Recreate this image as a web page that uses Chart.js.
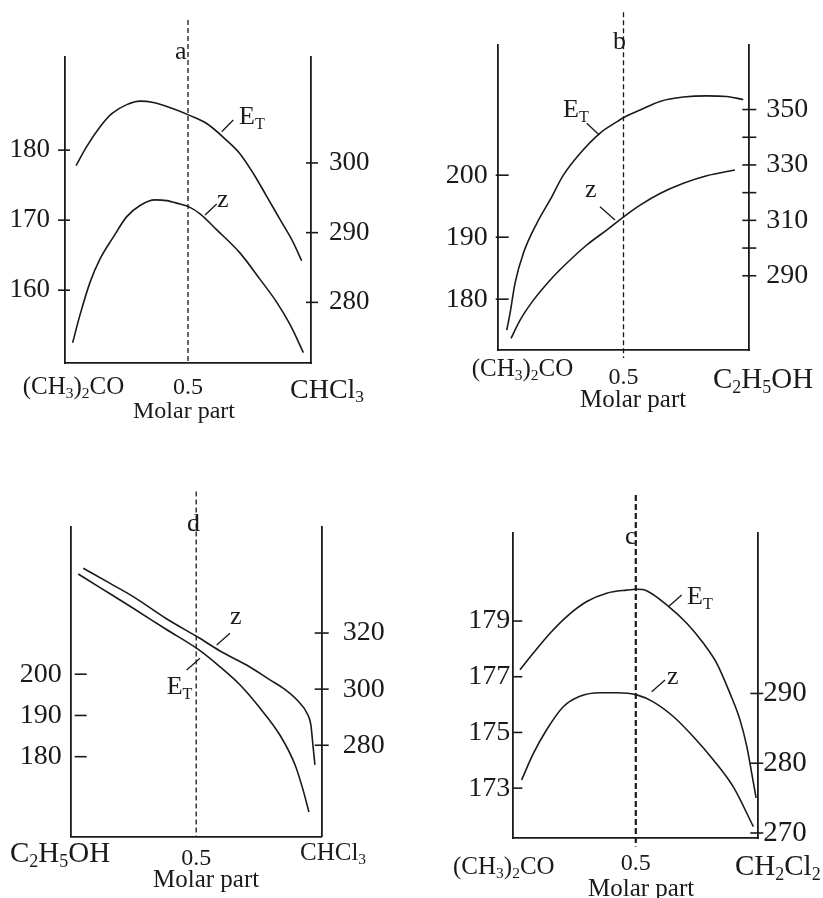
<!DOCTYPE html>
<html lang="en">
<head>
<meta charset="UTF-8">
<title>E_T and z against molar part</title>
<script src="https://cdn.jsdelivr.net/npm/chart.js@4.4.1/dist/chart.umd.min.js"></script>
<style>
  body { margin: 0; background: #fff; }
  #wrap { position: relative; width: 823px; height: 898px; overflow: hidden;
          font-family: "Liberation Serif", "Times New Roman", serif; color: #1a1a1a; }
  #wrap canvas { position: absolute; }
  .lbl { position: absolute; line-height: 1; white-space: nowrap; }
  .lbl sub { font-size: .62em; vertical-align: baseline; position: relative; top: .28em; }
  #leaders { position: absolute; left: 0; top: 0; }
</style>
</head>
<body>
<div id="wrap">
  <canvas id="pa" width="411" height="440"></canvas>
  <canvas id="pb" width="411" height="440"></canvas>
  <canvas id="pd" width="411" height="448"></canvas>
  <canvas id="pc" width="411" height="448"></canvas>
  <svg id="leaders" width="823" height="898"></svg>
</div>
<script>
// a: (CH3)2CO - CHCl3
const aEtX = [0.045, 0.088, 0.142, 0.190, 0.251, 0.305, 0.359, 0.440, 0.504, 0.576, 0.657, 0.711, 0.765, 0.820, 0.874, 0.928, 0.962];
const aEtY = [177.8, 180.5, 183.3, 185.2, 186.5, 187.0, 186.8, 185.9, 185.0, 183.8, 181.4, 179.5, 176.7, 173.4, 170.1, 166.8, 164.2];
const aZX = [0.031, 0.061, 0.102, 0.142, 0.197, 0.251, 0.305, 0.366, 0.413, 0.467, 0.504, 0.549, 0.617, 0.711, 0.793, 0.861, 0.915, 0.969];
const aZY = [274.2, 278.2, 282.9, 286.2, 289.4, 292.3, 293.9, 294.7, 294.6, 294.1, 293.7, 292.7, 290.4, 287.1, 283.3, 280.0, 276.8, 272.8];
const aLeftTicks = [160, 170, 180];
const aRightTicks = [280, 290, 300];

// b: (CH3)2CO - C2H5OH
const bEtX = [0.036, 0.049, 0.069, 0.102, 0.155, 0.208, 0.261, 0.327, 0.407, 0.473, 0.510, 0.566, 0.645, 0.738, 0.831, 0.910, 0.976];
const bEtY = [175.0, 177.7, 182.6, 187.4, 192.2, 196.0, 200.0, 203.5, 206.8, 208.6, 209.5, 210.5, 211.9, 212.6, 212.8, 212.7, 212.2];
const bZX = [0.053, 0.089, 0.142, 0.208, 0.274, 0.354, 0.433, 0.510, 0.566, 0.645, 0.738, 0.831, 0.943];
const bZY = [267.4, 274.0, 281.2, 288.4, 294.5, 301.1, 306.5, 311.9, 315.5, 319.7, 323.4, 326.1, 328.2];
const bLeftTicks = [180, 190, 200];
const bRightTicks = [290, 300, 310, 320, 330, 340, 350];
const bRightLabels = [290, 310, 330, 350];

// d: C2H5OH - CHCl3
const dEtX = [0.030, 0.117, 0.249, 0.380, 0.511, 0.595, 0.675, 0.754, 0.834, 0.894, 0.926, 0.949];
const dEtY = [224.3, 221.0, 216.0, 210.9, 205.9, 201.8, 197.4, 191.8, 185.2, 178.0, 171.9, 166.6];
const dZX = [0.050, 0.157, 0.249, 0.380, 0.511, 0.595, 0.714, 0.794, 0.846, 0.902, 0.945, 0.957, 0.965, 0.973];
const dZY = [343.1, 337.7, 333.0, 325.2, 318.3, 313.6, 307.9, 303.3, 300.4, 296.1, 290.8, 287.2, 280.1, 273.0];
const dLeftTicks = [180, 190, 200];
const dRightTicks = [280, 300, 320];

// c: (CH3)2CO - CH2Cl2
const cEtX = [0.027, 0.082, 0.150, 0.218, 0.300, 0.381, 0.463, 0.504, 0.544, 0.626, 0.708, 0.776, 0.830, 0.884, 0.925, 0.953, 0.973, 0.991];
const cEtY = [177.25, 177.85, 178.56, 179.16, 179.70, 180.00, 180.11, 180.14, 180.09, 179.58, 178.92, 178.20, 177.49, 176.41, 175.46, 174.50, 173.54, 172.65];
const cZX = [0.034, 0.082, 0.136, 0.204, 0.272, 0.354, 0.422, 0.504, 0.571, 0.653, 0.735, 0.816, 0.898, 0.980];
const cZY = [277.6, 281.4, 284.8, 288.1, 289.6, 290.1, 290.1, 289.8, 288.8, 286.7, 283.8, 280.5, 276.6, 270.9];
const cLeftTicks = [173, 175, 177, 179];
const cRightTicks = [270, 280, 290];

const guideX = 0.5;
const ink = '#1a1a1a';
const serif = '"Liberation Serif", "Times New Roman", serif';

// box: canvas left/top/w/h, area: left/top/right/bottom of the axes frame
const panels = [
  { id: 'pa', box: [0, 0, 411, 440], area: [65, 57, 311, 363],
    et: [aEtX, aEtY], z: [aZX, aZY],
    left: { min: 149.6, max: 193.3, ticks: aLeftTicks, size: 27, pad: 15, span: [-7, 5] },
    right: { min: 271.3, max: 315.2, ticks: aRightTicks, size: 27, pad: 18, span: [-5, 7] },
    guide: [198.6, 149.6], dash: [5, 3], dashW: 1.3, xPad: 10 },
  { id: 'pb', box: [412, 0, 411, 440], area: [497.7, 45, 749.3, 350],
    et: [bEtX, bEtY], z: [bZX, bZY],
    left: { min: 171.8, max: 221.0, ticks: bLeftTicks, size: 28, pad: 10, span: [-2, 11] },
    right: { min: 263.2, max: 373.3, ticks: bRightTicks, labels: bRightLabels, size: 28, pad: 17, span: [-7, 7] },
    guide: [226.3, 170.5], dash: [5, 3], dashW: 1.3, xPad: 13 },
  { id: 'pd', box: [0, 450, 411, 448], area: [70.7, 527, 321.7, 836.7],
    et: [dEtX, dEtY], z: [dZX, dZY],
    left: { min: 160.6, max: 235.7, ticks: dLeftTicks, size: 28, pad: 9, span: [4, 16] },
    right: { min: 247.4, max: 357.8, ticks: dRightTicks, size: 28, pad: 21, span: [-7, 7] },
    guide: [244.3, 160.6], dash: [5, 3], dashW: 1.3, xPad: 8 },
  { id: 'pc', box: [412, 450, 411, 448], area: [513.3, 533, 758.3, 838.3],
    et: [cEtX, cEtY], z: [cZX, cZY],
    left: { min: 171.2, max: 182.16, ticks: cLeftTicks, size: 28, pad: 3, span: [0, 9] },
    right: { min: 269.24, max: 313.0, ticks: cRightTicks, size: 29, pad: 5, span: [-8, 5] },
    guide: [183.52, 170.91], dash: [6, 3], dashW: 2.2, xPad: 11 }
];

function pts(xs, ys) {
  return xs.map((x, i) => ({ x: x, y: ys[i] }));
}

function curve(data, axis) {
  return { data: data, yAxisID: axis, borderColor: ink, borderWidth: 1.6,
           pointRadius: 0, fill: false, cubicInterpolationMode: 'monotone' };
}

function yScale(p, side, ax) {
  return {
    type: 'linear', position: side, min: ax.min, max: ax.max,
    afterBuildTicks: s => { s.ticks = ax.ticks.map(v => ({ value: v })); },
    afterFit: s => { s.width = side === 'left' ? p.area[0] - p.box[0] : p.box[0] + p.box[2] - p.area[2]; },
    grid: { display: false, drawTicks: false },
    border: { display: true, color: ink, width: 1.8 },
    ticks: { color: ink, padding: ax.pad, font: { family: serif, size: ax.size },
             callback: v => (!ax.labels || ax.labels.includes(v)) ? String(v) : '' }
  };
}

function tickPlugin(p) {
  return {
    id: 'tickMarks',
    afterDraw(chart) {
      const ctx = chart.ctx;
      ctx.save();
      ctx.strokeStyle = ink;
      ctx.lineWidth = 1.6;
      [['y', p.left.span], ['y2', p.right.span]].forEach(([id, span]) => {
        const s = chart.scales[id];
        const ax = id === 'y' ? s.right : s.left;
        s.ticks.forEach(t => {
          const py = s.getPixelForValue(t.value);
          ctx.beginPath();
          ctx.moveTo(ax + span[0], py);
          ctx.lineTo(ax + span[1], py);
          ctx.stroke();
        });
      });
      ctx.restore();
    }
  };
}

panels.forEach(p => {
  const cv = document.getElementById(p.id);
  cv.style.left = p.box[0] + 'px';
  cv.style.top = p.box[1] + 'px';
  new Chart(cv, {
    type: 'line',
    data: {
      datasets: [
        curve(pts(p.et[0], p.et[1]), 'y'),
        curve(pts(p.z[0], p.z[1]), 'y2'),
        { data: [{ x: guideX, y: p.guide[0] }, { x: guideX, y: p.guide[1] }], yAxisID: 'y',
          borderColor: ink, borderWidth: p.dashW, borderDash: p.dash, pointRadius: 0, clip: false }
      ]
    },
    options: {
      responsive: false, animation: false, events: [],
      layout: { padding: { top: p.area[1] - p.box[1], left: 0, right: 0, bottom: 0 } },
      plugins: { legend: { display: false }, tooltip: { enabled: false } },
      scales: {
        x: {
          type: 'linear', min: 0, max: 1,
          afterBuildTicks: s => { s.ticks = [{ value: guideX }]; },
          afterFit: s => { s.height = p.box[1] + p.box[3] - p.area[3]; },
          grid: { display: false, drawTicks: false },
          border: { display: true, color: ink, width: 1.8 },
          ticks: { color: ink, padding: p.xPad, maxRotation: 0, autoSkip: false,
                   font: { family: serif, size: 24 }, callback: v => String(v) }
        },
        y: yScale(p, 'left', p.left),
        y2: yScale(p, 'right', p.right)
      }
    },
    plugins: [tickPlugin(p)]
  });
});

// text: html, left, baseline, font size
const notes = [
  ['a', 175, 60, 26],
  ['E<sub>T</sub>', 239, 125, 26],
  ['z', 217, 208, 26],
  ['(CH<sub>3</sub>)<sub>2</sub>CO', 22.7, 394, 25],
  ['CHCl<sub>3</sub>', 290, 398, 28],
  ['Molar part', 133, 418, 24],
  ['b', 613, 50, 26],
  ['E<sub>T</sub>', 563, 118, 26],
  ['z', 585, 198, 26],
  ['(CH<sub>3</sub>)<sub>2</sub>CO', 471.7, 376, 25],
  ['C<sub>2</sub>H<sub>5</sub>OH', 713, 388, 29],
  ['Molar part', 580, 407, 25],
  ['d', 187, 532, 26],
  ['z', 230, 625, 26],
  ['E<sub>T</sub>', 166.7, 695, 26],
  ['C<sub>2</sub>H<sub>5</sub>OH', 10, 862, 29],
  ['CHCl<sub>3</sub>', 300, 860, 25],
  ['Molar part', 153, 887, 25],
  ['c', 625, 545, 26],
  ['E<sub>T</sub>', 687, 605, 26],
  ['z', 667, 685, 26],
  ['(CH<sub>3</sub>)<sub>2</sub>CO', 453, 874, 25],
  ['CH<sub>2</sub>Cl<sub>2</sub>', 735, 875, 29],
  ['Molar part', 588, 896, 25]
];
const wrap = document.getElementById('wrap');
notes.forEach(([html, left, base, size]) => {
  const d = document.createElement('div');
  d.className = 'lbl';
  d.innerHTML = html;
  d.style.fontSize = size + 'px';
  d.style.left = left + 'px';
  d.style.top = (base - 0.8375 * size) + 'px';
  wrap.appendChild(d);
});

// leader lines from labels to curves
const leaders = [
  [221.7, 131.7, 233.3, 120], [205, 215, 216.7, 204],
  [586.7, 123.3, 599.3, 135], [600, 206.7, 615, 220],
  [216.7, 645, 230, 633.3], [186.7, 670, 200, 658.3],
  [668.3, 606.7, 681.7, 595], [651.7, 691.7, 665, 680]
];
const svg = document.getElementById('leaders');
leaders.forEach(([x1, y1, x2, y2]) => {
  const l = document.createElementNS('http://www.w3.org/2000/svg', 'line');
  l.setAttribute('x1', x1); l.setAttribute('y1', y1);
  l.setAttribute('x2', x2); l.setAttribute('y2', y2);
  l.setAttribute('stroke', ink); l.setAttribute('stroke-width', '1.3');
  svg.appendChild(l);
});
</script>
</body>
</html>
